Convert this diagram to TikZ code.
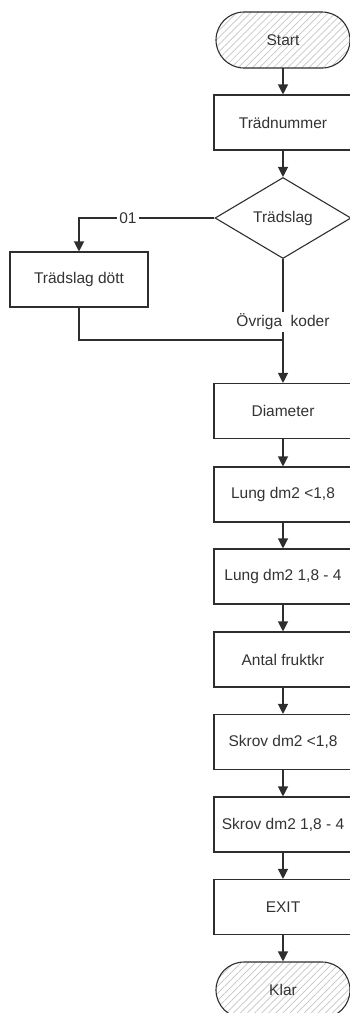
\documentclass[tikz,border=0pt]{standalone}
\usepackage{fontspec}
\setmainfont{Liberation Sans}
\usetikzlibrary{shapes.geometric,patterns.meta,arrows.meta}
\definecolor{linecol}{HTML}{2E2E2E}
\definecolor{txt}{HTML}{333333}
\definecolor{hatch}{HTML}{C4C4C4}
\begin{document}
\begin{tikzpicture}[x=1pt,y=-1pt,
  lbl/.style={font=\fontsize{15.5}{18}\selectfont, text=txt},
  proc/.style={lbl, draw=linecol, line width=1.1pt, fill=white,
    minimum width=138pt, minimum height=55pt, inner sep=0pt},
  term/.style={lbl, draw=linecol, line width=1.1pt, rounded corners=28pt,
    minimum width=134pt, minimum height=56pt, inner sep=0pt,
    pattern={Lines[angle=45,distance=5pt,line width=0.7pt]}, pattern color=hatch},
  dec/.style={lbl, draw=linecol, line width=1.1pt, shape=diamond, aspect=1.68,
    minimum width=136pt, minimum height=81pt, inner sep=0pt},
  tag/.style={lbl, fill=white, inner sep=2pt},
  wire/.style={draw=linecol, line width=1.2pt},
  arr/.style={wire, -{Triangle[length=10pt,width=10pt]}}]
\useasboundingbox (0,0) rectangle (350,1013);

% main column
\node[term] (start) at (283,40) {Start};
\node[proc] (tnum)  at (283,122.5) {Trädnummer};
\node[dec]  (dia)   at (283,218) {Trädslag};
\node[proc] (dott)  at (79,279.5) {Trädslag dött};
\node[proc] (diam)  at (283,411) {Diameter};
\node[proc] (lung1) at (283,494.5) {Lung dm2 <1,8};
\node[proc] (lung2) at (283,576.5) {Lung dm2 1,8 - 4};
\node[proc] (frukt) at (283,659.5) {Antal fruktkr};
\node[proc] (skr1)  at (283,742) {Skrov dm2 <1,8};
\node[proc] (skr2)  at (283,824.5) {Skrov dm2 1,8 - 4};
\node[proc] (exit)  at (283,907) {EXIT};
\node[term] (klar)  at (283,990) {Klar};

% branch labels
\node[tag] (o1) at (128,218) {01};
\node[tag, inner sep=2pt] (ov) at (283,322) {Övriga\ \ koder};
\coordinate (j) at (283,340);

% connectors
\draw[arr] (start) -- (tnum);
\draw[arr] (tnum) -- (dia.north);
\draw[wire] (dia.west) -- (o1.east);
\draw[arr] (o1.west) -| (dott.north);
\draw[wire] (dia.south) -- (ov.north);
\draw[wire] (ov.south) -- (j);
\draw[wire] (dott.south) |- (j);
\draw[arr] (j) -- (diam.north);
\draw[arr] (diam) -- (lung1);
\draw[arr] (lung1) -- (lung2);
\draw[arr] (lung2) -- (frukt);
\draw[arr] (frukt) -- (skr1);
\draw[arr] (skr1) -- (skr2);
\draw[arr] (skr2) -- (exit);
\draw[arr] (exit) -- (klar);
\end{tikzpicture}
\end{document}
